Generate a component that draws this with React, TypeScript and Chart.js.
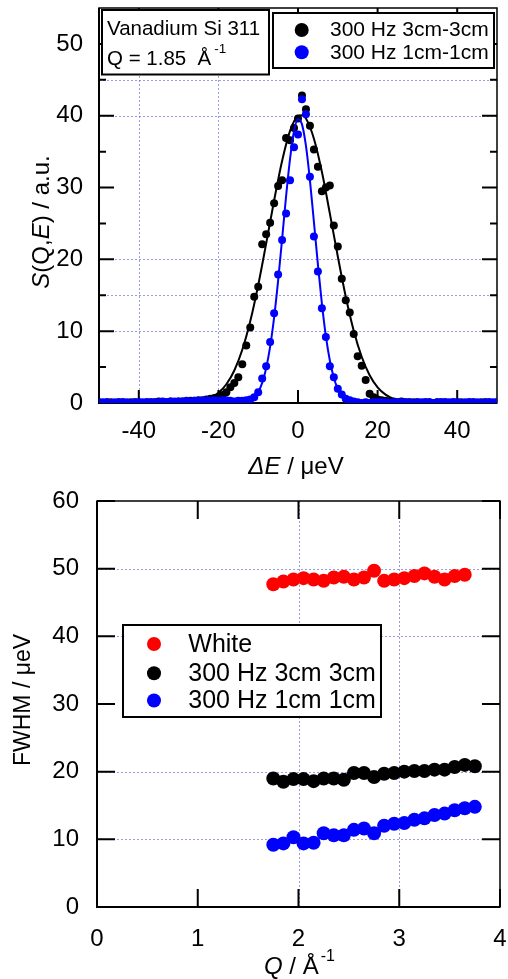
import React, { useEffect, useRef } from 'react';
import { Chart, registerables } from 'chart.js';

Chart.register(...registerables);

const FONT = 'Arial, "Liberation Sans", Helvetica, sans-serif';
const GRID = 'rgba(90, 90, 210, 0.6)';

// ---------------- Top panel: S(Q,E) vs ΔE ----------------
const energy = [
  -50, -49, -48, -47, -46, -45, -44, -43, -42, -41,
  -40, -39, -38, -37, -36, -35, -34, -33, -32, -31,
  -30, -29, -28, -27, -26, -25, -24, -23, -22, -21,
  -20, -19, -18, -17, -16, -15, -14, -13, -12, -11,
  -10, -9, -8, -7, -6, -5, -4, -3, -2, -1,
  0, 1, 2, 3, 4, 5, 6, 7, 8, 9,
  10, 11, 12, 13, 14, 15, 16, 17, 18, 19,
  20, 21, 22, 23, 24, 25, 26, 27, 28, 29,
  30, 31, 32, 33, 34, 35, 36, 37, 38, 39,
  40, 41, 42, 43, 44, 45, 46, 47, 48, 49, 50,
];
const s3cm = [
  0.1, 0.0, 0.1, 0.1, 0.0, 0.1, 0.1, 0.0, 0.1, 0.1,
  0.1, 0.0, 0.1, 0.1, 0.1, 0.2, 0.1, 0.1, 0.2, 0.1,
  0.2, 0.2, 0.2, 0.3, 0.3, 0.4, 0.4, 0.5, 0.6, 0.7,
  0.8, 1.1, 1.5, 2.2, 2.8, 3.6, 5.4, 8.0, 10.5, 14.8,
  16.2, 22.1, 23.5, 25.1, 27.8, 30.2, 31.0, 36.9, 36.6, 38.3,
  39.6, 42.8, 40.9, 38.6, 35.3, 32.9, 29.5, 30.0, 30.3, 24.7,
  21.8, 17.3, 14.3, 12.6, 9.6, 6.5, 5.2, 3.2, 1.3, 0.8,
  0.5, 0.4, 0.3, 0.2, 0.2, 0.1, 0.2, 0.1, 0.1, 0.1,
  0.1, 0.0, 0.1, 0.1, 0.0, 0.1, 0.1, 0.1, 0.0, 0.1,
  0.1, 0.1, 0.0, 0.1, 0.1, 0.0, 0.1, 0.1, 0.1, 0.0, 0.1,
];
const s1cm = [
  0.1, 0.1, 0.1, 0.0, 0.1, 0.1, 0.1, 0.1, 0.0, 0.1,
  0.1, 0.1, 0.1, 0.1, 0.1, 0.1, 0.2, 0.1, 0.2, 0.2,
  0.2, 0.2, 0.3, 0.2, 0.3, 0.3, 0.3, 0.4, 0.3, 0.4,
  0.3, 0.4, 0.4, 0.3, 0.2, 0.3, 0.3, 0.4, 0.5, 0.8,
  1.5, 3.4, 5.1, 8.5, 12.5, 17.9, 22.7, 26.4, 31.0, 35.6,
  37.4, 42.3, 40.2, 31.5, 23.2, 18.3, 13.2, 9.2, 5.1, 3.6,
  2.0, 1.2, 0.6, 0.4, 0.2, 0.1, 0.0, 0.1, 0.0, 0.1,
  0.1, 0.1, 0.1, 0.0, 0.1, 0.1, 0.1, 0.1, 0.1, 0.0,
  0.1, 0.1, 0.1, 0.1, 0.0, 0.1, 0.1, 0.1, 0.1, 0.1,
  0.1, 0.0, 0.1, 0.1, 0.1, 0.1, 0.0, 0.1, 0.1, 0.1, 0.1,
];
// fitted curves
const fit3cmE = [-50, -34, -30, -28, -26, -24, -22, -20, -18, -16, -14, -12, -10, -8, -6, -4, -2, 0, 1, 2, 4, 6, 8, 10, 12, 14, 16, 18, 20, 22, 24, 26, 28, 30, 34, 50];
const fit3cmS = [0, 0.01, 0.03, 0.06, 0.15, 0.34, 0.71, 1.41, 2.61, 4.53, 7.41, 11.37, 16.4, 22.2, 28.2, 33.7, 37.9, 39.95, 40.07, 39.6, 36.8, 32.2, 26.4, 20.4, 14.8, 10.07, 6.44, 3.87, 2.18, 1.16, 0.58, 0.27, 0.12, 0.05, 0.01, 0];
const fit1cmE = [-50, -16, -14, -13, -12, -11, -10, -9, -8, -7, -6, -5, -4, -3, -2, -1, 0, 1, 2, 3, 4, 5, 6, 7, 8, 9, 10, 11, 12, 13, 14, 16, 50];
const fit1cmS = [0, 0.01, 0.07, 0.17, 0.38, 0.79, 1.53, 2.81, 4.85, 7.84, 11.92, 17.0, 22.8, 28.75, 34.0, 37.86, 39.55, 38.8, 35.8, 31.0, 25.2, 19.3, 13.84, 9.33, 5.92, 3.52, 1.97, 1.03, 0.51, 0.24, 0.1, 0.02, 0];
const topSeries = ['300 Hz 3cm-3cm', '300 Hz 1cm-1cm'];
const topXTicks = [-40, -20, 0, 20, 40];
const topYTicks = [0, 10, 20, 30, 40, 50];
const topYMinor = [5, 15, 25, 35, 45];
const topGridX = [-40, -20];
const topGridY = [10, 15, 20, 40, 45];

// ---------------- Bottom panel: FWHM vs Q ----------------
const qWhite = [1.75, 1.85, 1.95, 2.05, 2.15, 2.25, 2.35, 2.45, 2.55, 2.65, 2.75, 2.85, 2.95, 3.05, 3.15, 3.25, 3.35, 3.45, 3.55, 3.65];
const fwhmWhite = [47.7, 48.1, 48.4, 48.6, 48.4, 48.2, 48.7, 48.8, 48.4, 48.7, 49.7, 48.2, 48.4, 48.6, 48.9, 49.3, 48.8, 48.4, 48.9, 49.1];
const q300 = [1.75, 1.85, 1.95, 2.05, 2.15, 2.25, 2.35, 2.45, 2.55, 2.65, 2.75, 2.85, 2.95, 3.05, 3.15, 3.25, 3.35, 3.45, 3.55, 3.65, 3.75];
const fwhm3cm = [19.0, 18.5, 18.9, 18.9, 18.6, 19.0, 19.0, 18.8, 19.8, 19.8, 19.2, 19.7, 19.8, 20.0, 20.1, 20.1, 20.3, 20.3, 20.7, 21.0, 20.8];
const fwhm1cm = [9.2, 9.4, 10.3, 9.4, 9.5, 10.9, 10.6, 10.6, 11.4, 11.6, 10.9, 12.0, 12.3, 12.4, 12.9, 13.1, 13.6, 13.8, 14.3, 14.6, 14.8];
const botSeries = ['White', '300 Hz 3cm 3cm', '300 Hz 1cm 1cm'];
const botXTicks = [0, 1, 2, 3, 4];
const botYTicks = [0, 10, 20, 30, 40, 50, 60];
const botGridX = [2, 3];
const botGridY = [10, 20, 40, 50];

type Run = { t: string; size: number; italic?: boolean; dy?: number; dx?: number };

function font(size: number, italic?: boolean) {
  return `${italic ? 'italic ' : ''}${size}px ${FONT}`;
}

function drawRuns(ctx: CanvasRenderingContext2D, runs: Run[], x: number, y: number, align: 'left' | 'center') {
  let total = 0;
  const widths = runs.map((r) => {
    ctx.font = font(r.size, r.italic);
    const w = ctx.measureText(r.t).width + (r.dx || 0);
    total += w;
    return w;
  });
  let cx = align === 'center' ? x - total / 2 : x;
  ctx.textBaseline = 'alphabetic';
  ctx.textAlign = 'left';
  runs.forEach((r, i) => {
    ctx.font = font(r.size, r.italic);
    ctx.fillText(r.t, cx + (r.dx || 0), y + (r.dy || 0));
    cx += widths[i];
  });
}

function pts(xs: number[], ys: number[]) {
  return ys.map((y, i) => ({ x: xs[i], y }));
}

interface FrameCfg {
  id: string;
  gridX: number[];
  gridY: number[];
  majorX: number[];
  majorY: number[];
  minorY: number[];
  lenX: number;
  lenY: number;
  lenMinor: number;
  after: (ctx: CanvasRenderingContext2D, chart: any) => void;
}

function framePlugin(cfg: FrameCfg) {
  return {
    id: cfg.id,
    beforeDatasetsDraw(chart: any) {
      const ctx: CanvasRenderingContext2D = chart.ctx;
      const a = chart.chartArea;
      const xs = chart.scales.x;
      const ys = chart.scales.y;
      ctx.save();
      // grid
      ctx.strokeStyle = GRID;
      ctx.lineWidth = 1;
      ctx.setLineDash([2, 2]);
      ctx.beginPath();
      cfg.gridX.forEach((v) => {
        const p = Math.round(xs.getPixelForValue(v)) + 0.5;
        ctx.moveTo(p, a.top);
        ctx.lineTo(p, a.bottom);
      });
      cfg.gridY.forEach((v) => {
        const p = Math.round(ys.getPixelForValue(v)) + 0.5;
        ctx.moveTo(a.left, p);
        ctx.lineTo(a.right, p);
      });
      ctx.stroke();
      ctx.setLineDash([]);
      // frame
      ctx.strokeStyle = '#000';
      ctx.lineWidth = 1.5;
      ctx.strokeRect(a.left, a.top, a.right - a.left, a.bottom - a.top);
      ctx.lineWidth = 2;
      ctx.beginPath();
      ctx.moveTo(a.left, a.top);
      ctx.lineTo(a.left, a.bottom);
      ctx.lineTo(a.right, a.bottom);
      ctx.stroke();
      // inward ticks
      ctx.beginPath();
      cfg.majorX.forEach((v) => {
        const p = xs.getPixelForValue(v);
        ctx.moveTo(p, a.bottom);
        ctx.lineTo(p, a.bottom - cfg.lenX);
        ctx.moveTo(p, a.top);
        ctx.lineTo(p, a.top + cfg.lenX);
      });
      cfg.majorY.forEach((v) => {
        const p = ys.getPixelForValue(v);
        ctx.moveTo(a.left, p);
        ctx.lineTo(a.left + cfg.lenY, p);
        ctx.moveTo(a.right, p);
        ctx.lineTo(a.right - cfg.lenY, p);
      });
      cfg.minorY.forEach((v) => {
        const p = ys.getPixelForValue(v);
        ctx.moveTo(a.left, p);
        ctx.lineTo(a.left + cfg.lenMinor, p);
        ctx.moveTo(a.right, p);
        ctx.lineTo(a.right - cfg.lenMinor, p);
      });
      ctx.stroke();
      ctx.restore();
    },
    afterDatasetsDraw(chart: any) {
      const ctx: CanvasRenderingContext2D = chart.ctx;
      ctx.save();
      ctx.fillStyle = '#000';
      cfg.after(ctx, chart);
      ctx.restore();
    },
  };
}

function box(ctx: CanvasRenderingContext2D, x: number, y: number, w: number, h: number) {
  ctx.fillStyle = '#fff';
  ctx.fillRect(x, y, w, h);
  ctx.strokeStyle = '#000';
  ctx.lineWidth = 2;
  ctx.strokeRect(x, y, w, h);
  ctx.fillStyle = '#000';
}

function dot(ctx: CanvasRenderingContext2D, x: number, y: number, r: number, color: string) {
  ctx.fillStyle = color;
  ctx.beginPath();
  ctx.arc(x, y, r, 0, Math.PI * 2);
  ctx.fill();
  ctx.fillStyle = '#000';
}

function tickFont(size: number) {
  return { family: FONT, size };
}

function topConfig(): any {
  const plugin = framePlugin({
    id: 'topFrame',
    gridX: topGridX,
    gridY: topGridY,
    majorX: topXTicks,
    majorY: topYTicks,
    minorY: topYMinor,
    lenX: 13,
    lenY: 15,
    lenMinor: 7,
    after: (ctx, chart) => {
      // text box
      box(ctx, 102, 10, 167, 64.5);
      drawRuns(ctx, [{ t: 'Vanadium Si 311', size: 20.5 }], 107, 34.5, 'left');
      drawRuns(ctx, [{ t: 'Q = 1.85  Å', size: 20.5 }, { t: '-1', size: 13.5, dy: -12, dx: 3 }], 107, 65, 'left');
      // legend
      box(ctx, 273, 13, 221, 55);
      const ds = chart.data.datasets.filter((d: any) => d.inLegend);
      const rows = [30, 52.3];
      ds.forEach((d: any, i: number) => {
        dot(ctx, 301.7, rows[i], 7, d.backgroundColor);
        drawRuns(ctx, [{ t: d.label, size: 21 }], 330, rows[i] + 6.3, 'left');
      });
      // axis titles
      drawRuns(ctx, [{ t: 'ΔE', size: 24, italic: true }, { t: ' / μeV', size: 24 }], 296, 474, 'center');
      ctx.save();
      ctx.translate(49, 222);
      ctx.rotate(-Math.PI / 2);
      drawRuns(
        ctx,
        [
          { t: 'S', size: 24, italic: true },
          { t: '(Q,', size: 24 },
          { t: 'E', size: 24, italic: true },
          { t: ') / a.u.', size: 24 },
        ],
        0,
        0,
        'center'
      );
      ctx.restore();
    },
  });
  return {
    type: 'scatter',
    data: {
      datasets: [
        {
          label: topSeries[0],
          inLegend: true,
          data: pts(energy, s3cm),
          backgroundColor: '#000000',
          borderColor: '#000000',
          pointRadius: 4,
          pointBorderWidth: 0,
          showLine: false,
          order: 4,
        },
        {
          label: topSeries[0] + ' fit',
          data: pts(fit3cmE, fit3cmS),
          borderColor: '#000000',
          backgroundColor: '#000000',
          borderWidth: 2,
          pointRadius: 0,
          showLine: true,
          cubicInterpolationMode: 'monotone',
          order: 3,
        },
        {
          label: topSeries[1],
          inLegend: true,
          data: pts(energy, s1cm),
          backgroundColor: '#0000ff',
          borderColor: '#0000ff',
          pointRadius: 4,
          pointBorderWidth: 0,
          showLine: false,
          order: 2,
        },
        {
          label: topSeries[1] + ' fit',
          data: pts(fit1cmE, fit1cmS),
          borderColor: '#0000ff',
          backgroundColor: '#0000ff',
          borderWidth: 2,
          pointRadius: 0,
          showLine: true,
          cubicInterpolationMode: 'monotone',
          order: 1,
        },
      ],
    },
    options: {
      responsive: false,
      animation: false,
      devicePixelRatio: 1,
      layout: { padding: { left: 0, right: 11, top: 8, bottom: 0 } },
      plugins: { legend: { display: false }, tooltip: { enabled: false } },
      scales: {
        x: {
          type: 'linear',
          min: -50,
          max: 50,
          grid: { display: false },
          border: { display: false },
          ticks: { color: '#000', font: tickFont(24), padding: 6, maxRotation: 0, autoSkip: false, callback: (v: number) => String(v) },
          afterBuildTicks: (s: any) => {
            s.ticks = topXTicks.map((v) => ({ value: v }));
          },
          afterFit: (s: any) => {
            s.height = 87;
            s.paddingLeft = 0;
            s.paddingRight = 0;
          },
        },
        y: {
          type: 'linear',
          min: 0,
          max: 55,
          grid: { display: false },
          border: { display: false },
          ticks: { color: '#000', font: tickFont(24), padding: 8, autoSkip: false, callback: (v: number) => String(v) },
          afterBuildTicks: (s: any) => {
            s.ticks = topYTicks.map((v) => ({ value: v }));
          },
          afterFit: (s: any) => {
            s.width = 99;
            s.paddingTop = 0;
            s.paddingBottom = 0;
          },
        },
      },
    },
    plugins: [plugin],
  };
}

function botConfig(): any {
  const plugin = framePlugin({
    id: 'botFrame',
    gridX: botGridX,
    gridY: botGridY,
    majorX: botXTicks,
    majorY: botYTicks,
    minorY: [],
    lenX: 18,
    lenY: 18,
    lenMinor: 0,
    after: (ctx, chart) => {
      box(ctx, 123, 135, 258, 92);
      const ds = chart.data.datasets;
      const rows = [154, 183.3, 210.5];
      ds.forEach((d: any, i: number) => {
        dot(ctx, 154, rows[i], 7, d.backgroundColor);
        drawRuns(ctx, [{ t: d.label, size: 25 }], 188.3, rows[i] + 7.5, 'left');
      });
      drawRuns(
        ctx,
        [
          { t: 'Q', size: 24, italic: true },
          { t: ' / Å', size: 24 },
          { t: '-1', size: 16, dy: -13, dx: 2 },
        ],
        264,
        484,
        'left'
      );
      ctx.save();
      ctx.translate(30, 210);
      ctx.rotate(-Math.PI / 2);
      drawRuns(ctx, [{ t: 'FWHM / μeV', size: 23 }], 0, 0, 'center');
      ctx.restore();
    },
  });
  const mk = (label: string, xs: number[], ys: number[], color: string, order: number) => ({
    label,
    data: pts(xs, ys),
    backgroundColor: color,
    borderColor: color,
    pointRadius: 7,
    pointBorderWidth: 0,
    showLine: false,
    order,
  });
  return {
    type: 'scatter',
    data: {
      datasets: [
        mk(botSeries[0], qWhite, fwhmWhite, '#ff0000', 3),
        mk(botSeries[1], q300, fwhm3cm, '#000000', 2),
        mk(botSeries[2], q300, fwhm1cm, '#0000ff', 1),
      ],
    },
    options: {
      responsive: false,
      animation: false,
      devicePixelRatio: 1,
      layout: { padding: { left: 0, right: 8, top: 11, bottom: 0 } },
      plugins: { legend: { display: false }, tooltip: { enabled: false } },
      scales: {
        x: {
          type: 'linear',
          min: 0,
          max: 4,
          grid: { display: false },
          border: { display: false },
          ticks: { color: '#000', font: tickFont(24), padding: 10, maxRotation: 0, autoSkip: false, callback: (v: number) => String(v) },
          afterBuildTicks: (s: any) => {
            s.ticks = botXTicks.map((v) => ({ value: v }));
          },
          afterFit: (s: any) => {
            s.height = 72;
            s.paddingLeft = 0;
            s.paddingRight = 0;
          },
        },
        y: {
          type: 'linear',
          min: 0,
          max: 60,
          grid: { display: false },
          border: { display: false },
          ticks: { color: '#000', font: tickFont(24), padding: 10, autoSkip: false, callback: (v: number) => String(v) },
          afterBuildTicks: (s: any) => {
            s.ticks = botYTicks.map((v) => ({ value: v }));
          },
          afterFit: (s: any) => {
            s.width = 97;
            s.paddingTop = 0;
            s.paddingBottom = 0;
          },
        },
      },
    },
    plugins: [plugin],
  };
}

export default function App() {
  const topRef = useRef<HTMLCanvasElement>(null);
  const botRef = useRef<HTMLCanvasElement>(null);
  useEffect(() => {
    const c1 = new Chart(topRef.current as HTMLCanvasElement, topConfig());
    const c2 = new Chart(botRef.current as HTMLCanvasElement, botConfig());
    return () => {
      c1.destroy();
      c2.destroy();
    };
  }, []);
  return (
    <div style={{ position: 'absolute', left: 0, top: 0, width: 508, height: 979, background: '#fff' }}>
      <canvas ref={topRef} width={508} height={490} style={{ position: 'absolute', left: 0, top: 0, display: 'block' }} />
      <canvas ref={botRef} width={508} height={489} style={{ position: 'absolute', left: 0, top: 490, display: 'block' }} />
    </div>
  );
}
